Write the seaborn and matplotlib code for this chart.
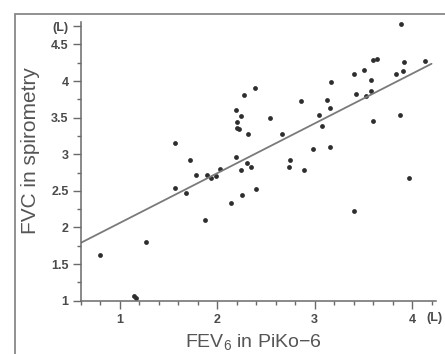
import numpy as np
import pandas as pd
import matplotlib
matplotlib.use("Agg")
import matplotlib.pyplot as plt
from matplotlib.lines import Line2D
import seaborn as sns

# values (litres)
fev6_piko = [3.89, 4.13, 3.92, 3.60, 3.64, 3.40, 3.51, 3.84, 3.91, 3.58,
             3.17, 3.43, 3.53, 3.58, 2.86, 3.13, 3.16, 3.05, 3.08, 3.60,
             3.88, 3.16, 2.98, 2.75, 2.74, 2.89, 2.67, 2.54, 2.39, 2.28,
             2.19, 2.25, 2.21, 2.21, 2.23, 2.32, 1.57, 1.72, 2.19, 2.31,
             2.35, 2.25, 3.97, 1.78, 1.90, 1.94, 1.99, 2.03, 1.57, 1.68,
             2.26, 2.40, 2.14, 1.88, 3.40, 1.27, 0.80, 1.15, 1.17]
fvc_spiro = [4.78, 4.28, 4.26, 4.29, 4.30, 4.09, 4.15, 4.10, 4.14, 4.01,
             3.99, 3.82, 3.80, 3.86, 3.73, 3.74, 3.63, 3.53, 3.38, 3.45,
             3.54, 3.10, 3.07, 2.92, 2.82, 2.78, 3.28, 3.49, 3.90, 3.81,
             3.61, 3.52, 3.44, 3.36, 3.34, 3.28, 3.16, 2.92, 2.96, 2.88,
             2.82, 2.78, 2.68, 2.71, 2.72, 2.67, 2.70, 2.80, 2.54, 2.47,
             2.44, 2.53, 2.34, 2.10, 2.23, 1.80, 1.63, 1.06, 1.03]

# regression line
fit_slope = 0.68
fit_intercept = 1.38
fit_x = [0.6, 4.2]

x_ticks = [1, 2, 3, 4]
x_tick_labels = ["1", "2", "3", "4"]
y_ticks = [1, 1.5, 2, 2.5, 3, 3.5, 4, 4.5, 4.75]
y_tick_labels = ["1", "1.5", "2", "2.5", "3", "3.5", "4", "4.5", "(L)"]

df = pd.DataFrame({"FEV6": fev6_piko, "FVC": fvc_spiro})
fit_df = pd.DataFrame({"x": fit_x})
fit_df["y"] = fit_intercept + fit_slope * fit_df["x"]

sns.set_style("ticks")
plt.rcParams["font.family"] = ["Liberation Sans", "DejaVu Sans"]
plt.rcParams["mathtext.fontset"] = "custom"
plt.rcParams["mathtext.rm"] = "Liberation Sans"
plt.rcParams["mathtext.it"] = "Liberation Sans"

fig = plt.figure(figsize=(4.45, 3.54), dpi=100)
ax = fig.add_axes([0.1809, 0.1506, 0.7998, 0.7859])

axis_grey = "#6a6a6a"
text_grey = "#4a4a4a"

sns.lineplot(data=fit_df, x="x", y="y", ax=ax, color="#7a7a7a", linewidth=1.3)
sns.scatterplot(data=df, x="FEV6", y="FVC", ax=ax, color="#2e2e2e",
                s=12, linewidth=0, edgecolor=None)

ax.set_xlim(0.6, 4.25)
ax.set_ylim(1, 4.8)

ax.set_xticks(x_ticks)
ax.set_xticklabels(x_tick_labels)
ax.set_xticks(np.arange(0.6, 4.25, 0.2), minor=True)
ax.set_yticks(y_ticks)
ax.set_yticklabels(y_tick_labels)
ax.set_yticks(np.arange(1.25, 4.8, 0.5), minor=True)

for lab in ax.get_xticklabels() + ax.get_yticklabels():
    lab.set_fontweight("bold")

ax.tick_params(axis="both", which="major", length=5.5, width=1.0,
               color=axis_grey, labelcolor=text_grey, labelsize=9)
ax.tick_params(axis="both", which="minor", length=3, width=1.0, color=axis_grey)
ax.tick_params(axis="y", which="major", pad=3)
ax.tick_params(axis="x", which="major", pad=4)

sns.despine(ax=ax)
for side in ["left", "bottom"]:
    ax.spines[side].set_color(axis_grey)
    ax.spines[side].set_linewidth(1.1)

ax.text(4.23, -0.04, "(L)", transform=ax.get_xaxis_transform(),
        ha="center", va="top", fontsize=9, fontweight="bold", color=text_grey)

ax.set_xlabel("FEV$_6$ in PiKo\u22126", fontsize=14, color="#555555")
ax.set_ylabel("FVC in spirometry", fontsize=15, color="#555555")
ax.xaxis.set_label_coords(0.487, -0.112)
ax.yaxis.set_label_coords(-0.114, 0.538)

# photo-frame border on the left and top
fig.add_artist(Line2D([15 / 445, 15 / 445], [0, 1 - 14 / 354],
                      transform=fig.transFigure, color="#888888", linewidth=1.3))
fig.add_artist(Line2D([15 / 445, 1], [1 - 14 / 354, 1 - 14 / 354],
                      transform=fig.transFigure, color="#888888", linewidth=1.3))

fig.savefig("out.png", dpi=100)
